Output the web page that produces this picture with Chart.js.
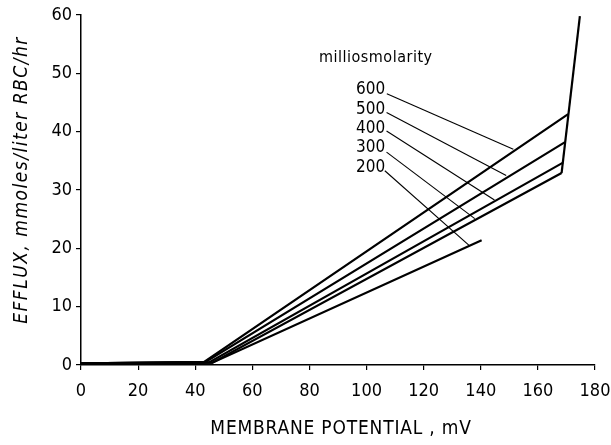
<!DOCTYPE html>
<html>
<head>
<meta charset="utf-8">
<script src="https://cdn.jsdelivr.net/npm/chart.js@4"></script>
<style>
  html, body { margin: 0; padding: 0; background: #fff; }
  #wrap { width: 611px; height: 445px; }
</style>
</head>
<body>
<div id="wrap"><canvas id="chart" width="611" height="445"></canvas></div>
<script>
// Efflux vs membrane potential, one line per milliosmolarity
const xTicks = [0, 20, 40, 60, 80, 100, 120, 140, 160, 180];
const yTicks = [0, 10, 20, 30, 40, 50, 60];

const osmLabels = ['600', '500', '400', '300', '200'];
const potential600 = [0, 43, 170.6];
const efflux600 = [0.3, 0.5, 43.0];
const potential500 = [0, 43.5, 169.5];
const efflux500 = [0.3, 0.5, 38.2];
const potential400 = [0, 45, 168.8];
const efflux400 = [0.3, 0.5, 34.7];
const potential300 = [0, 46, 168.3];
const efflux300 = [0.2, 0.4, 32.9];
const potential200 = [0, 46, 140.3];
const efflux200 = [0.2, 0.4, 21.4];
// steep final segment joining the ends
const potentialTop = [168.3, 174.7];
const effluxTop = [32.9, 59.8];

// leader lines from labels to curves
const leaderFromX = [107.1, 107, 107, 107, 106.4];
const leaderFromY = [46.5, 43.3, 40.1, 36.5, 33.3];
const leaderToX = [151.4, 148.9, 144.8, 137.9, 135.9];
const leaderToY = [37.0, 32.5, 28.3, 25.1, 20.5];
// label anchor (right edge, middle)
const labelX = [106.5, 106.5, 106.5, 106.5, 106.5];
const labelY = [47.2, 43.8, 40.5, 37.2, 33.8];

const FONT = "'Liberation Sans Narrow', 'DejaVu Sans Condensed', 'Liberation Sans', sans-serif";

const pts = (xs, ys) => xs.map((x, i) => ({ x, y: ys[i] }));
const curve = (xs, ys) => ({
  data: pts(xs, ys), showLine: true, borderColor: '#000', borderWidth: 2.2,
  pointRadius: 0, tension: 0, borderJoinStyle: 'miter'
});
const leader = i => ({
  data: [{ x: leaderFromX[i], y: leaderFromY[i] }, { x: leaderToX[i], y: leaderToY[i] }],
  showLine: true, borderColor: '#000', borderWidth: 1.1, pointRadius: 0
});

const textPlugin = {
  id: 'textPlugin',
  afterDraw(chart) {
    const { ctx, scales: { x, y } } = chart;
    ctx.save();
    ctx.fillStyle = '#000';
    ctx.textBaseline = 'middle';
    // curve labels
    ctx.font = '17px ' + FONT;
    ctx.textAlign = 'right';
    osmLabels.forEach((t, i) => {
      ctx.fillText(t, x.getPixelForValue(labelX[i]), y.getPixelForValue(labelY[i]));
    });
    ctx.font = '16px ' + FONT;
    ctx.textAlign = 'left';
    if ('letterSpacing' in ctx) ctx.letterSpacing = '0.5px';
    ctx.fillText('milliosmolarity', 319, 58);
    // axis titles
    ctx.font = '19px ' + FONT;
    if ('letterSpacing' in ctx) ctx.letterSpacing = '0.8px';
    ctx.textAlign = 'center';
    ctx.fillText('MEMBRANE POTENTIAL , mV', 341, 429);
    ctx.translate(22, 180);
    ctx.rotate(-Math.PI / 2);
    ctx.font = 'italic 19px ' + FONT;
    if ('letterSpacing' in ctx) ctx.letterSpacing = '1.5px';
    ctx.fillText('EFFLUX, mmoles/liter RBC/hr', 0, 0);
    ctx.restore();
  }
};

new Chart(document.getElementById('chart'), {
  type: 'scatter',
  data: {
    datasets: [
      curve(potential600, efflux600),
      curve(potential500, efflux500),
      curve(potential400, efflux400),
      curve(potential300, efflux300),
      curve(potential200, efflux200),
      curve(potentialTop, effluxTop),
      ...osmLabels.map((_, i) => leader(i))
    ]
  },
  options: {
    responsive: false, animation: false,
    layout: { padding: { top: 15, right: 0, left: 0, bottom: 0 } },
    scales: {
      x: {
        type: 'linear', min: 0, max: 180,
        afterBuildTicks: s => { s.ticks = xTicks.map(v => ({ value: v })); },
        afterFit: s => { s.height = 80; s.paddingRight = 16; s.paddingLeft = 0; },
        ticks: { color: '#000', padding: 11, font: { family: FONT, size: 18 }, maxRotation: 0 },
        grid: { drawOnChartArea: false, drawTicks: true, tickLength: 5, color: '#000', lineWidth: 1.2 },
        border: { display: true, color: '#000', width: 1.5 }
      },
      y: {
        type: 'linear', min: 0, max: 60,
        afterBuildTicks: s => { s.ticks = yTicks.map(v => ({ value: v })); },
        afterFit: s => { s.width = 81; },
        ticks: { color: '#000', padding: 4, font: { family: FONT, size: 18 } },
        grid: { drawOnChartArea: false, drawTicks: true, tickLength: 5, color: '#000', lineWidth: 1.2 },
        border: { display: true, color: '#000', width: 1.5 }
      }
    },
    plugins: { legend: { display: false }, tooltip: { enabled: false } }
  },
  plugins: [textPlugin]
});
</script>
</body>
</html>
